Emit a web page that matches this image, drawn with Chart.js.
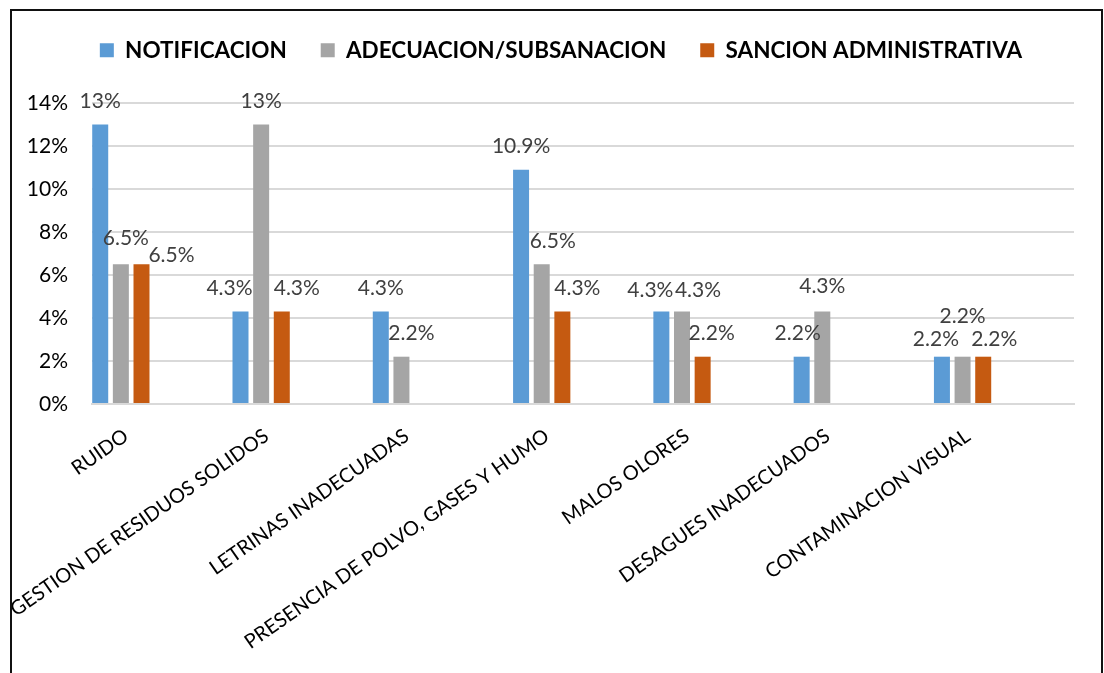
<!DOCTYPE html>
<html>
<head>
<meta charset="utf-8">
<script src="https://cdn.jsdelivr.net/npm/chart.js@4.4.1/dist/chart.umd.min.js"></script>
<style>
  html, body { margin: 0; padding: 0; background: #fff; }
  #wrap { position: relative; width: 1104px; height: 673px; overflow: hidden; }
  #frame { position: absolute; left: 10px; top: 9px; width: 1093px; height: 700px;
           box-sizing: border-box; border: 2px solid #111; pointer-events: none; }
</style>
</head>
<body>
<div id="wrap">
  <canvas id="chart"></canvas>
  <div id="frame"></div>
</div>
<script>
var categories = ['RUIDO', 'GESTION DE RESIDUOS SOLIDOS', 'LETRINAS INADECUADAS',
  'PRESENCIA DE POLVO, GASES Y HUMO', 'MALOS OLORES', 'DESAGUES INADECUADOS', 'CONTAMINACION VISUAL'];
var notificacion = [13, 4.3, 4.3, 10.9, 4.3, 2.2, 2.2];
var adecuacion = [6.5, 13, 2.2, 6.5, 4.3, 4.3, 2.2];
var sancion = [6.5, 4.3, null, 4.3, 2.2, null, 2.2];
var yTicks = [0, 2, 4, 6, 8, 10, 12, 14];

// label nudges (dx, dy) from the default spot above each bar
var labelShift = [
  [[0, 0], [-11, 0], [0, 0], [0, 0], [-11, 2], [-4, 0], [-6, 6]],
  [[5, -2], [0, 0], [10, 0], [11, 1], [16, 2], [0, -2], [0, -17]],
  [[30, 15], [15, 0], [0, 0], [15, 0], [9, 0], [0, 0], [11, 6]]
];

var FONT = 'Lato';

var barLabels = {
  id: 'barLabels',
  afterDatasetsDraw: function(chart) {
    var ctx = chart.ctx;
    ctx.save();
    ctx.font = '21px ' + FONT;
    ctx.fillStyle = '#404040';
    ctx.textAlign = 'center';
    ctx.textBaseline = 'alphabetic';
    for (var d = 0; d < 3; d++) {
      var meta = chart.getDatasetMeta(d);
      var values = chart.data.datasets[d].data;
      meta.data.forEach(function(bar, i) {
        if (values[i] === null) return;
        var s = labelShift[d][i];
        ctx.fillText(values[i] + '%', bar.x + s[0], bar.y - 17 + s[1]);
      });
    }
    ctx.restore();
  }
};

// the original legend sits a bit right of the page centre
var legendNudge = {
  id: 'legendNudge',
  afterLayout: function(chart) {
    chart.legend.left += 10;
    chart.legend.right += 10;
  }
};

var datasets = [
  { label: 'NOTIFICACION', data: notificacion, backgroundColor: '#5B9BD5' },
  { label: 'ADECUACION/SUBSANACION', data: adecuacion, backgroundColor: '#A5A5A5' },
  { label: 'SANCION ADMINISTRATIVA', data: sancion, backgroundColor: '#C55A11' }
];
// empty slots so each group sits at the left of its category, like the original
for (var k = 0; k < 4; k++) datasets.push({ label: '', data: [] });

var ctx = document.getElementById('chart').getContext('2d');
var chart = new Chart(ctx, {
  type: 'bar',
  data: { labels: categories, datasets: datasets },
  options: {
    responsive: true,
    maintainAspectRatio: false,
    animation: false,
    categoryPercentage: 1.03,
    barPercentage: 0.775,
    layout: { padding: { top: 5, left: 28, right: 30, bottom: 0 } },
    plugins: {
      tooltip: { enabled: false },
      legend: {
        position: 'top',
        labels: {
          filter: function(item) { return item.text !== ''; },
          boxWidth: 14,
          boxHeight: 14,
          padding: 34,
          color: '#000',
          font: { family: FONT, size: 22.5, weight: 'bold' }
        }
      },
      title: {
        display: true,
        text: '',
        weight: 0,
        padding: { top: 7.5, bottom: 0 },
        font: { size: 20, lineHeight: 1.2 }
      }
    },
    scales: {
      x: {
        grid: { display: false, drawTicks: false },
        border: { display: true, color: '#D9D9D9', width: 2 },
        ticks: {
          autoSkip: false,
          minRotation: 35,
          maxRotation: 35,
          labelOffset: -36,
          padding: 20,
          color: '#000',
          font: { family: FONT, size: 20 }
        },
        afterFit: function(scale) { scale.height = 269; }
      },
      y: {
        min: 0,
        max: 14,
        afterBuildTicks: function(scale) {
          scale.ticks = yTicks.map(function(v) { return { value: v }; });
        },
        grid: { color: '#D9D9D9', lineWidth: 2, drawTicks: false },
        border: { display: false },
        ticks: {
          padding: 24,
          color: '#000',
          font: { family: FONT, size: 21 },
          callback: function(v) { return v + '%'; }
        },
        afterFit: function(scale) { scale.width = 64; }
      }
    }
  },
  plugins: [barLabels, legendNudge]
});
</script>
</body>
</html>
